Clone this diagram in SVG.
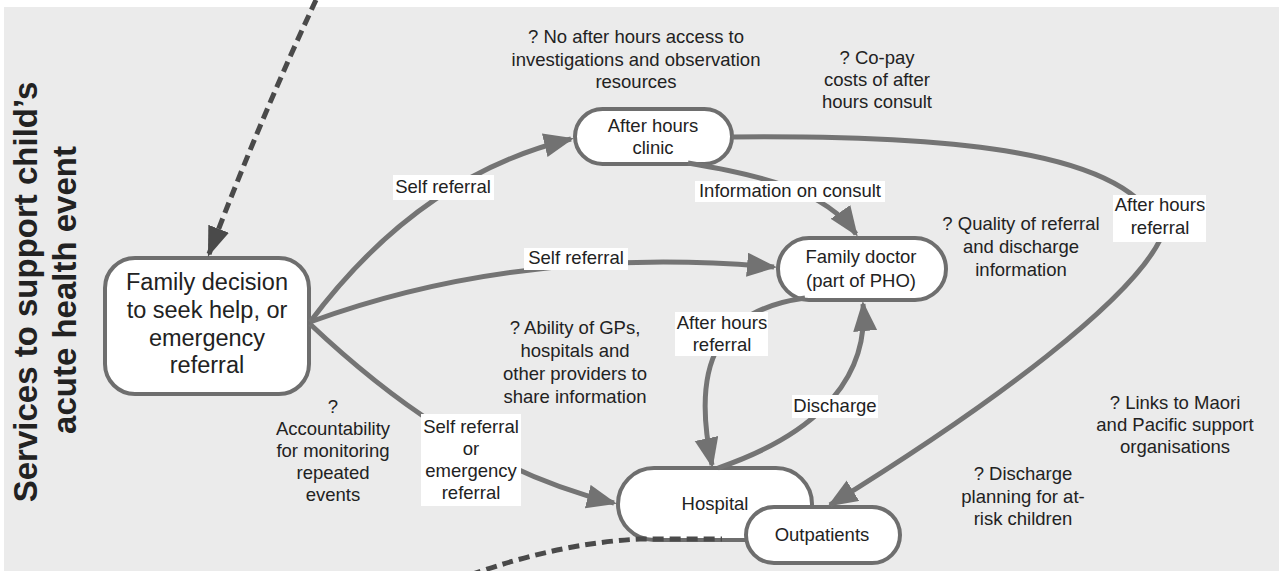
<svg xmlns="http://www.w3.org/2000/svg" width="1279" height="571" viewBox="0 0 1279 571">
<defs>
<style>
.bg{fill:#ebebeb}
.node{fill:#ffffff;stroke:#6e6e6e;stroke-width:4}
.t{font-family:"Liberation Sans",Arial,sans-serif;font-size:18.5px;fill:#222;text-anchor:middle}
.big{font-size:23.5px}
.title{font-family:"Liberation Sans",Arial,sans-serif;font-size:33px;font-weight:bold;fill:#222;text-anchor:middle}
.edge{fill:none;stroke:#747474;stroke-width:5}
.dash{fill:none;stroke:#4a4a4a;stroke-width:5;stroke-dasharray:11 6}
.lbl{fill:#ffffff}
</style>
<marker id="ah" markerUnits="userSpaceOnUse" markerWidth="32" markerHeight="26" refX="27" refY="12" orient="auto">
<path d="M0,0 L30,12 L0,24 Z" fill="#727272"/>
</marker>
<marker id="dh" markerUnits="userSpaceOnUse" markerWidth="32" markerHeight="24" refX="27" refY="11" orient="auto">
<path d="M0,0 L30,11 L0,22 Z" fill="#4a4a4a"/>
</marker>
</defs>
<rect x="0" y="0" width="1279" height="571" fill="#ffffff"/>
<rect class="bg" x="4" y="7" width="1275" height="564"/>

<g id="title">
<text class="title" transform="translate(37,292) rotate(-90)">Services to support child’s</text>
<text class="title" transform="translate(76,290) rotate(-90)">acute health event</text>
</g>

<g id="node-family-decision">
<rect class="node" x="105" y="258" width="204" height="136" rx="30"/>
<text class="t big" x="207" y="290">Family decision</text>
<text class="t big" x="207" y="318">to seek help, or</text>
<text class="t big" x="207" y="346">emergency</text>
<text class="t big" x="207" y="373">referral</text>
</g>
<g id="node-after-hours-clinic">
<rect class="node" x="575" y="109" width="157" height="55" rx="27.5"/>
<text class="t" x="653" y="132">After hours</text>
<text class="t" x="653" y="154">clinic</text>
</g>
<g id="node-family-doctor">
<rect class="node" x="778" y="238" width="168" height="62" rx="31"/>
<text class="t" x="861" y="263">Family doctor</text>
<text class="t" x="861" y="287">(part of PHO)</text>
</g>
<g id="node-hospital">
<rect class="node" x="618" y="468" width="194" height="72" rx="36"/>
<text class="t" x="715" y="510">Hospital</text>
</g>
<g id="node-outpatients">
<rect class="node" x="746" y="507" width="154" height="56" rx="28"/>
<text class="t" x="822" y="541">Outpatients</text>
</g>

<g id="connectors">
<path class="dash" d="M316 0 Q262 115 209 254" marker-end="url(#dh)"/>
<path class="dash" d="M470 575 Q560 543 640 539 L722 539"/>
<path class="edge" d="M310 322 Q420 175 571 139" marker-end="url(#ah)"/>
<path class="edge" d="M310 322 Q520 245 774 267" marker-end="url(#ah)"/>
<path class="edge" d="M310 324 C380 390 480 470 614 503" marker-end="url(#ah)"/>
<path class="edge" d="M688 163 C760 175 825 190 856 234" marker-end="url(#ah)"/>
<path class="edge" d="M732 137 C950 135 1130 150 1160 230"/>
<path class="edge" d="M1160 240 C1130 300 1000 400 830 505" marker-end="url(#ah)"/>
<path class="edge" d="M805 298 C720 310 690 360 712 465" marker-end="url(#ah)"/>
<path class="edge" d="M718 468 C800 440 870 390 863 304" marker-end="url(#ah)"/>

<rect class="lbl" x="393" y="175" width="101" height="25"/>
<text class="t" x="443" y="193">Self referral</text>
<rect class="lbl" x="524" y="248" width="104" height="22"/>
<text class="t" x="576" y="264">Self referral</text>
<rect class="lbl" x="421" y="414" width="100" height="92"/>
<text class="t" x="471" y="433">Self referral</text>
<text class="t" x="471" y="455">or</text>
<text class="t" x="471" y="477">emergency</text>
<text class="t" x="471" y="499">referral</text>
<rect class="lbl" x="695" y="181" width="190" height="21"/>
<text class="t" x="790" y="197">Information on consult</text>
<rect class="lbl" x="1113" y="195" width="93" height="47"/>
<text class="t" x="1160" y="211">After hours</text>
<text class="t" x="1160" y="234">referral</text>
<rect class="lbl" x="675" y="312" width="93" height="44"/>
<text class="t" x="722" y="329">After hours</text>
<text class="t" x="722" y="351">referral</text>
<rect class="lbl" x="792" y="395" width="86" height="23"/>
<text class="t" x="835" y="412">Discharge</text>
</g>

<g id="annotations">
<text class="t" x="636" y="43">? No after hours access to</text>
<text class="t" x="636" y="66">investigations and observation</text>
<text class="t" x="636" y="88">resources</text>
<text class="t" x="877" y="64">? Co-pay</text>
<text class="t" x="877" y="86">costs of after</text>
<text class="t" x="877" y="108">hours consult</text>
<text class="t" x="1021" y="230">? Quality of referral</text>
<text class="t" x="1021" y="253">and discharge</text>
<text class="t" x="1021" y="276">information</text>
<text class="t" x="575" y="334">? Ability of GPs,</text>
<text class="t" x="575" y="357">hospitals and</text>
<text class="t" x="575" y="380">other providers to</text>
<text class="t" x="575" y="403">share information</text>
<text class="t" x="333" y="413">?</text>
<text class="t" x="333" y="435">Accountability</text>
<text class="t" x="333" y="457">for monitoring</text>
<text class="t" x="333" y="479">repeated</text>
<text class="t" x="333" y="501">events</text>
<text class="t" x="1175" y="409">? Links to Maori</text>
<text class="t" x="1175" y="431">and Pacific support</text>
<text class="t" x="1175" y="453">organisations</text>
<text class="t" x="1023" y="480">? Discharge</text>
<text class="t" x="1023" y="503">planning for at-</text>
<text class="t" x="1023" y="525">risk children</text>
</g>
</svg>
